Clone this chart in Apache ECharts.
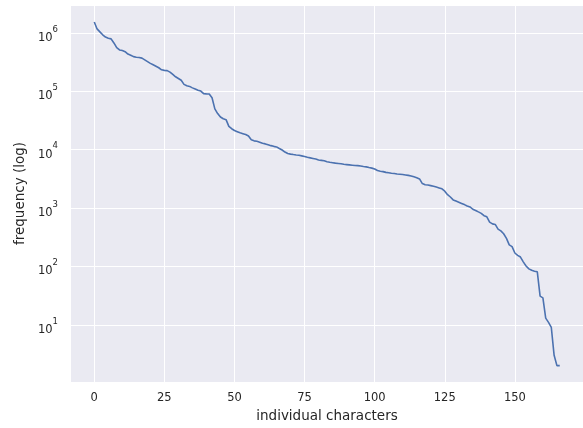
<!DOCTYPE html>
<html>
<head>
<meta charset="utf-8">
<script src="https://cdn.jsdelivr.net/npm/echarts@6/dist/echarts.min.js"></script>
<style>html,body{margin:0;padding:0;background:#fff}#c{width:583px;height:428px}</style>
</head>
<body>
<div id="c"></div>
<script>
// frequency of each individual character, sorted by rank
var frequency = [
  1548817, 1174898, 1047129, 933254, 851138, 812831, 794328, 676083, 562341, 512861,
  501187, 478630, 436516, 416869, 393550, 384592, 380189, 371535, 346737, 323594,
  301995, 285102, 269153, 254097, 234423, 229087, 226464, 213796, 194984, 177828,
  165959, 154882, 131826, 124451, 121619, 114815, 109648, 104713, 101158, 91201,
  90573, 90157, 77625, 50119, 41687, 36308, 33884, 32734, 25119, 22909,
  21380, 20417, 19498, 18836, 18197, 17179, 14791, 14191, 13964, 13490,
  12882, 12589, 12162, 11749, 11429, 11169, 10471, 9886, 9120, 8610,
  8414, 8260, 8128, 8035, 7852, 7674, 7413, 7244, 7079, 6918,
  6683, 6577, 6457, 6237, 6095, 5998, 5888, 5821, 5754, 5623,
  5559, 5495, 5433, 5370, 5333, 5248, 5152, 5082, 4955, 4842,
  4677, 4416, 4285, 4217, 4093, 4027, 3963, 3908, 3846, 3802,
  3758, 3698, 3631, 3548, 3443, 3311, 3162, 2630, 2512, 2483,
  2427, 2371, 2291, 2213, 2138, 1950, 1698, 1549, 1380, 1318,
  1259, 1202, 1148, 1084, 1047, 955, 912, 861, 813, 741,
  708, 575, 537, 525, 437, 407, 363, 302, 234, 219,
  170, 155, 145, 120, 102, 91, 86, 83, 81, 31,
  29, 13, 11, 9, 3, 2, 2
];
var xTicks = [0, 25, 50, 75, 100, 125, 150];
var yTickExponents = [1, 2, 3, 4, 5, 6];

var points = frequency.map(function (v, i) { return [i, v]; });
var textColor = '#262626';
var font = 'DejaVu Sans';

var chart = echarts.init(document.getElementById('c'), null, {renderer: 'canvas'});
chart.setOption({
  animation: false,
  backgroundColor: '#ffffff',
  grid: {
    left: 71, top: 5, width: 516, height: 378,
    show: true, backgroundColor: '#EAEAF2', borderWidth: 0
  },
  xAxis: {
    type: 'value',
    min: -8.3, max: 174.3,
    name: 'individual characters',
    nameLocation: 'middle',
    nameGap: 27,
    nameTextStyle: {color: textColor, fontFamily: font, fontSize: 13.5},
    axisLine: {show: false},
    axisTick: {show: false, customValues: xTicks},
    axisLabel: {
      customValues: xTicks,
      color: textColor, fontFamily: font, fontSize: 11.5, margin: 10
    },
    splitLine: {show: true, lineStyle: {color: '#ffffff', width: 1}}
  },
  yAxis: {
    type: 'log',
    logBase: 10,
    min: Math.pow(10, 0.02), max: Math.pow(10, 6.48),
    name: 'frequency (log)',
    nameLocation: 'middle',
    nameGap: 42,
    nameTextStyle: {color: textColor, fontFamily: font, fontSize: 13.5},
    axisLine: {show: false},
    axisTick: {show: false},
    axisLabel: {
      showMinLabel: false, showMaxLabel: false,
      margin: 13,
      formatter: function (v) {
        var e = Math.log10(v);
        var r = Math.round(e);
        if (Math.abs(e - r) > 0.01 || yTickExponents.indexOf(r) < 0) return '';
        return '{b|10}{s|' + r + '}';
      },
      rich: {
        b: {color: textColor, fontFamily: font, fontSize: 11.5, verticalAlign: 'bottom', lineHeight: 16, padding: [0, 0, -3, 0]},
        s: {color: textColor, fontFamily: font, fontSize: 8.5, verticalAlign: 'top', lineHeight: 16, padding: [0, 0, 3, 0]}
      }
    },
    splitLine: {show: true, lineStyle: {color: '#ffffff', width: 1}}
  },
  series: [{
    type: 'line',
    data: points,
    showSymbol: false,
    symbol: 'none',
    lineStyle: {color: '#4C72B0', width: 1.6},
    itemStyle: {color: '#4C72B0'}
  }]
});
</script>
</body>
</html>
